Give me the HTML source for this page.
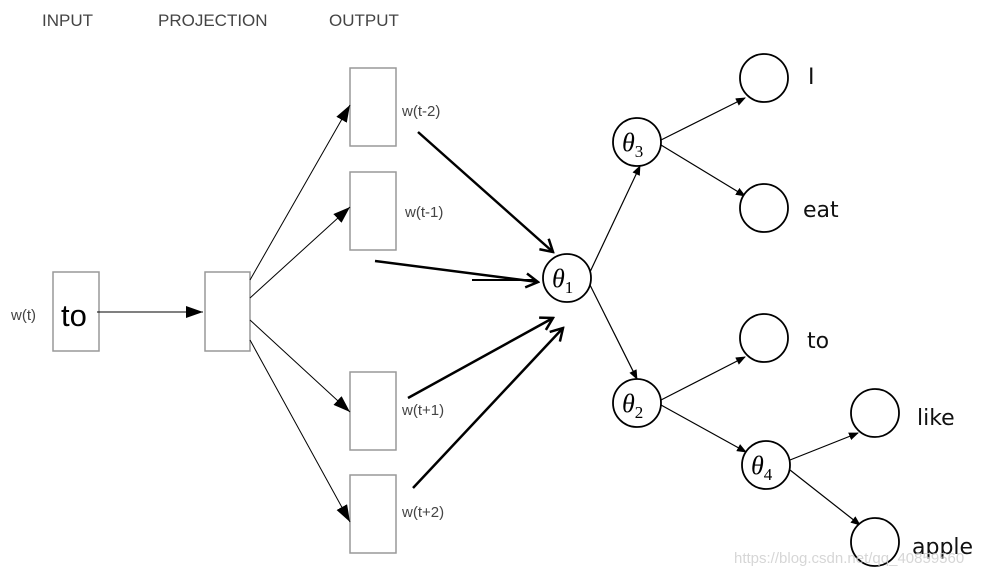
<!DOCTYPE html>
<html><head><style>
body{margin:0;background:#fff;}
svg{display:block}
</style></head><body>
<svg width="987" height="577" viewBox="0 0 987 577" xmlns="http://www.w3.org/2000/svg">
<defs>
<marker id="a" markerWidth="10" markerHeight="8" refX="9" refY="4" orient="auto" markerUnits="userSpaceOnUse"><path d="M0,0 L10,4 L0,8 z" fill="#000"/></marker>
<marker id="b" markerWidth="18" markerHeight="12" refX="17" refY="6" orient="auto" markerUnits="userSpaceOnUse"><path d="M0,0 L17,6 L0,12 z" fill="#000"/></marker>
<marker id="o" markerWidth="16" markerHeight="16" refX="14" refY="8" orient="auto" markerUnits="userSpaceOnUse"><path d="M2,1 L14,8 L2,15" fill="none" stroke="#000" stroke-width="2.5"/></marker>
</defs>
<g font-family="Liberation Sans, sans-serif" fill="#444" font-size="17">
<text x="42" y="26">INPUT</text>
<text x="158" y="26">PROJECTION</text>
<text x="329" y="26">OUTPUT</text>
</g>
<g fill="#fff" stroke="#999" stroke-width="1.5">
<rect x="53" y="272" width="46" height="79"/>
<rect x="205" y="272" width="45" height="79"/>
<rect x="350" y="68" width="46" height="78"/>
<rect x="350" y="172" width="46" height="78"/>
<rect x="350" y="372" width="46" height="78"/>
<rect x="350" y="475" width="46" height="78"/>
</g>
<g font-family="Liberation Sans, sans-serif" fill="#444" font-size="15">
<text x="11" y="320">w(t)</text>
<text x="402" y="116">w(t-2)</text>
<text x="405" y="217">w(t-1)</text>
<text x="402" y="415">w(t+1)</text>
<text x="402" y="517">w(t+2)</text>
</g>
<text x="61" y="326" font-family="Liberation Sans, sans-serif" font-size="31" fill="#000">to</text>
<g stroke="#000" stroke-width="1" fill="none" marker-end="url(#b)">
<line x1="97" y1="312" x2="203" y2="312"/>
<line x1="250" y1="280" x2="350" y2="105"/>
<line x1="250" y1="298" x2="350" y2="207"/>
<line x1="250" y1="320" x2="350" y2="412"/>
<line x1="250" y1="340" x2="350" y2="522"/>
</g>
<g stroke="#000" stroke-width="2.5" fill="none" marker-end="url(#o)">
<line x1="418" y1="132" x2="553" y2="252"/>
<line x1="375" y1="261" x2="538" y2="282"/>
<line x1="408" y1="398" x2="553" y2="318"/>
<line x1="413" y1="488" x2="563" y2="328"/>
</g>
<line x1="472" y1="280" x2="535" y2="280" stroke="#000" stroke-width="2"/>
<g stroke="#000" stroke-width="1.2" fill="none" marker-end="url(#a)">
<line x1="590" y1="272" x2="640" y2="166"/>
<line x1="590" y1="285" x2="637" y2="379"/>
<line x1="661" y1="140" x2="745" y2="98"/>
<line x1="661" y1="145" x2="745" y2="196"/>
<line x1="661" y1="400" x2="745" y2="357"/>
<line x1="661" y1="405" x2="746" y2="452"/>
<line x1="790" y1="460" x2="858" y2="433"/>
<line x1="790" y1="470" x2="860" y2="525"/>
</g>
<g stroke="#000" stroke-width="1.8" fill="#fff">
<circle cx="567" cy="278" r="24"/>
<circle cx="637" cy="142" r="24"/>
<circle cx="637" cy="403" r="24"/>
<circle cx="766" cy="465" r="24"/>
<circle cx="764" cy="78" r="24"/>
<circle cx="764" cy="208" r="24"/>
<circle cx="764" cy="338" r="24"/>
<circle cx="875" cy="413" r="24"/>
<circle cx="875" cy="542" r="24"/>
</g>
<g font-family="Liberation Serif, serif" font-style="italic" font-size="26" fill="#000">
<text x="552" y="287">θ<tspan font-size="17" font-style="normal" dy="6">1</tspan></text>
<text x="622" y="151">θ<tspan font-size="17" font-style="normal" dy="6">3</tspan></text>
<text x="622" y="412">θ<tspan font-size="17" font-style="normal" dy="6">2</tspan></text>
<text x="751" y="474">θ<tspan font-size="17" font-style="normal" dy="6">4</tspan></text>
</g>
<g font-family="DejaVu Sans, sans-serif" font-size="22" fill="#111">
<text x="808" y="84">I</text>
<text x="803" y="217">eat</text>
<text x="807" y="348">to</text>
<text x="917" y="425">like</text>
<text x="912" y="554">apple</text>
</g>
<text x="734" y="563" font-family="Liberation Sans, sans-serif" font-size="15" fill="#ccc" opacity="0.8">https://blog.csdn.net/qq_40859560</text>
</svg>
</body></html>
